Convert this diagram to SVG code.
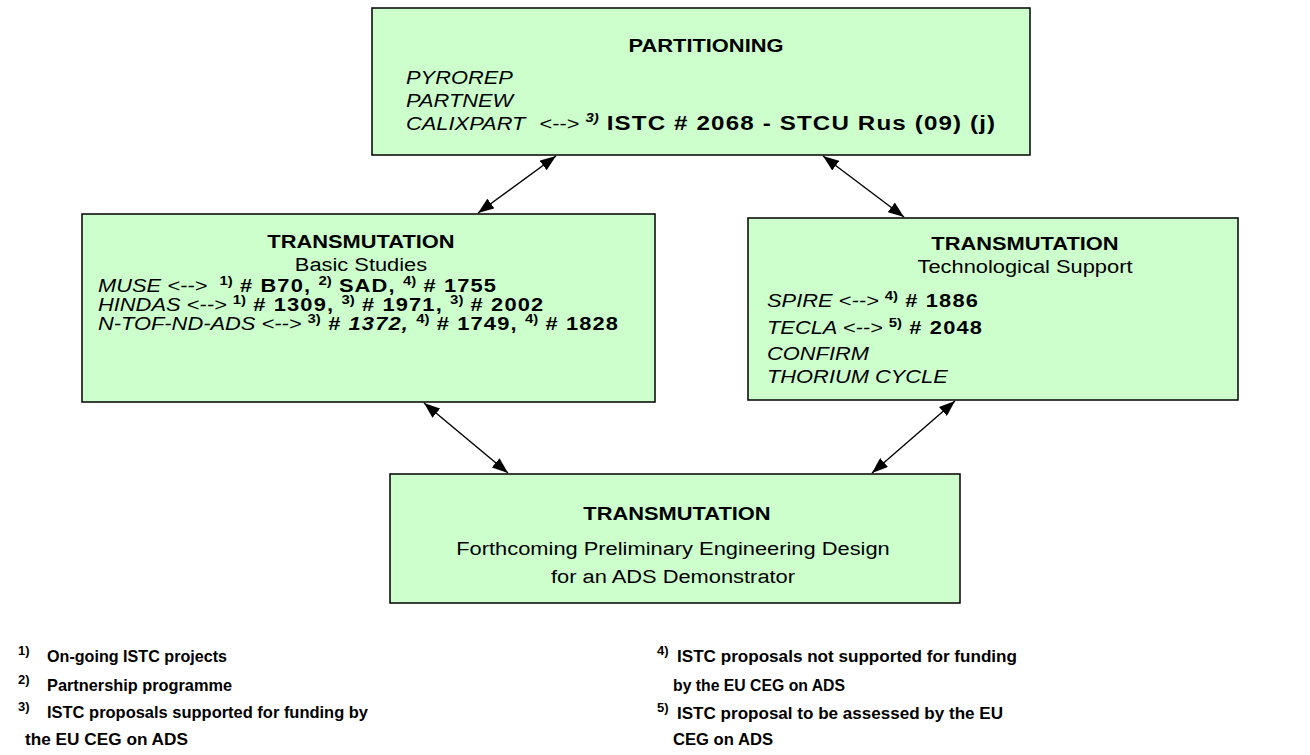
<svg xmlns="http://www.w3.org/2000/svg" width="1310" height="755" viewBox="0 0 1310 755">
<defs>
<marker id="ah" markerUnits="userSpaceOnUse" markerWidth="16" markerHeight="12" viewBox="0 0 16 12" refX="16" refY="6" orient="auto-start-reverse">
<path d="M0,0 L16,6 L0,12 z" fill="#000"/>
</marker>
</defs>
<style>
.box{fill:#ccffcc;stroke:#000;stroke-width:1.5}
text{font-family:"Liberation Sans",Arial,sans-serif;font-size:19px;fill:#000}
.t{font-weight:bold;text-anchor:middle}
.c{text-anchor:middle}
.i{font-style:italic}
.g{font-weight:bold;letter-spacing:1px}
.gl{font-weight:bold;font-size:21px;letter-spacing:1px}
.s{font-size:13px;font-weight:bold}
.fn{font-size:17px;font-weight:bold}
.fs{font-size:13px;font-weight:bold}
.con line{stroke:#000;stroke-width:1.4;marker-start:url(#ah);marker-end:url(#ah)}
</style>
<rect width="1310" height="755" fill="#fff"/>
<g id="partitioning">
<rect class="box" x="372" y="8" width="658" height="147"/>
<text class="t" transform="translate(706,52) scale(1.15,1)">PARTITIONING</text>
<text class="i" transform="translate(406,84) scale(1.15,1)">PYROREP</text>
<text class="i" transform="translate(406,107) scale(1.15,1)">PARTNEW</text>
<text transform="translate(406,130) scale(1.15,1)" xml:space="preserve"><tspan class="i">CALIXPART</tspan><tspan x="116">&lt;--&gt; </tspan><tspan class="s i" dy="-8">3)</tspan><tspan class="gl" dy="8"> ISTC # 2068 - STCU Rus (09) (j)</tspan></text>
</g>
<g id="basic-studies">
<rect class="box" x="82" y="214" width="573" height="188"/>
<text class="t" transform="translate(361,248) scale(1.15,1)">TRANSMUTATION</text>
<text class="c" transform="translate(361,271) scale(1.15,1)">Basic Studies</text>
<text transform="translate(98,292) scale(1.15,1)" xml:space="preserve"><tspan class="i">MUSE &lt;--&gt;  </tspan><tspan class="s" dy="-7">1)</tspan><tspan class="g" dy="7"> # B70, </tspan><tspan class="s" dy="-7">2)</tspan><tspan class="g" dy="7"> SAD, </tspan><tspan class="s" dy="-7">4)</tspan><tspan class="g" dy="7"> # 1755</tspan></text>
<text transform="translate(98,311) scale(1.15,1)" xml:space="preserve"><tspan class="i">HINDAS &lt;--&gt; </tspan><tspan class="s" dy="-7">1)</tspan><tspan class="g" dy="7"> # 1309, </tspan><tspan class="s" dy="-7">3)</tspan><tspan class="g" dy="7"> # 1971, </tspan><tspan class="s" dy="-7">3)</tspan><tspan class="g" dy="7"> # 2002</tspan></text>
<text transform="translate(98,330) scale(1.15,1)" xml:space="preserve"><tspan class="i">N-TOF-ND-ADS &lt;--&gt; </tspan><tspan class="s" dy="-7">3)</tspan><tspan class="g i" dy="7"> # 1372, </tspan><tspan class="s" dy="-7">4)</tspan><tspan class="g" dy="7"> # 1749, </tspan><tspan class="s" dy="-7">4)</tspan><tspan class="g" dy="7"> # 1828</tspan></text>
</g>
<g id="technological-support">
<rect class="box" x="748" y="218" width="490" height="182"/>
<text class="t" transform="translate(1025,250) scale(1.15,1)">TRANSMUTATION</text>
<text class="c" transform="translate(1025,273) scale(1.15,1)">Technological Support</text>
<text transform="translate(767,307) scale(1.15,1)" xml:space="preserve"><tspan class="i">SPIRE &lt;--&gt; </tspan><tspan class="s" dy="-7">4)</tspan><tspan class="g" dy="7"> # 1886</tspan></text>
<text transform="translate(767,334) scale(1.15,1)" xml:space="preserve"><tspan class="i">TECLA &lt;--&gt; </tspan><tspan class="s" dy="-7">5)</tspan><tspan class="g" dy="7"> # 2048</tspan></text>
<text class="i" transform="translate(767,360) scale(1.15,1)">CONFIRM</text>
<text class="i" transform="translate(767,383) scale(1.15,1)">THORIUM CYCLE</text>
</g>
<g id="ads-demonstrator">
<rect class="box" x="390" y="474" width="570" height="129"/>
<text class="t" transform="translate(677,520) scale(1.15,1)">TRANSMUTATION</text>
<text class="c" transform="translate(673,555) scale(1.15,1)">Forthcoming Preliminary Engineering Design</text>
<text class="c" transform="translate(673,583) scale(1.15,1)">for an ADS Demonstrator</text>
</g>
<g class="con" id="connectors">
<line x1="556" y1="156" x2="478" y2="213"/>
<line x1="823" y1="156" x2="904" y2="217"/>
<line x1="424" y1="403" x2="508" y2="473"/>
<line x1="955" y1="401" x2="872" y2="473"/>
</g>
<g id="legend">
<text class="fs" x="18" y="655">1)</text>
<text class="fn" x="47" y="662" textLength="180" lengthAdjust="spacingAndGlyphs">On-going ISTC projects</text>
<text class="fs" x="18" y="684">2)</text>
<text class="fn" x="47" y="691" textLength="185" lengthAdjust="spacingAndGlyphs">Partnership programme</text>
<text class="fs" x="18" y="711">3)</text>
<text class="fn" x="47" y="718" textLength="321" lengthAdjust="spacingAndGlyphs">ISTC proposals supported for funding by</text>
<text class="fn" x="25" y="745" textLength="163" lengthAdjust="spacingAndGlyphs">the EU CEG on ADS</text>
<text class="fs" x="657" y="655">4)</text>
<text class="fn" x="677" y="662" textLength="340" lengthAdjust="spacingAndGlyphs">ISTC proposals not supported for funding</text>
<text class="fn" x="673" y="691" textLength="172" lengthAdjust="spacingAndGlyphs">by the EU CEG on ADS</text>
<text class="fs" x="657" y="712">5)</text>
<text class="fn" x="677" y="719" textLength="326" lengthAdjust="spacingAndGlyphs">ISTC proposal to be assessed by the EU</text>
<text class="fn" x="673" y="745" textLength="100" lengthAdjust="spacingAndGlyphs">CEG on ADS</text>
</g>
</svg>
